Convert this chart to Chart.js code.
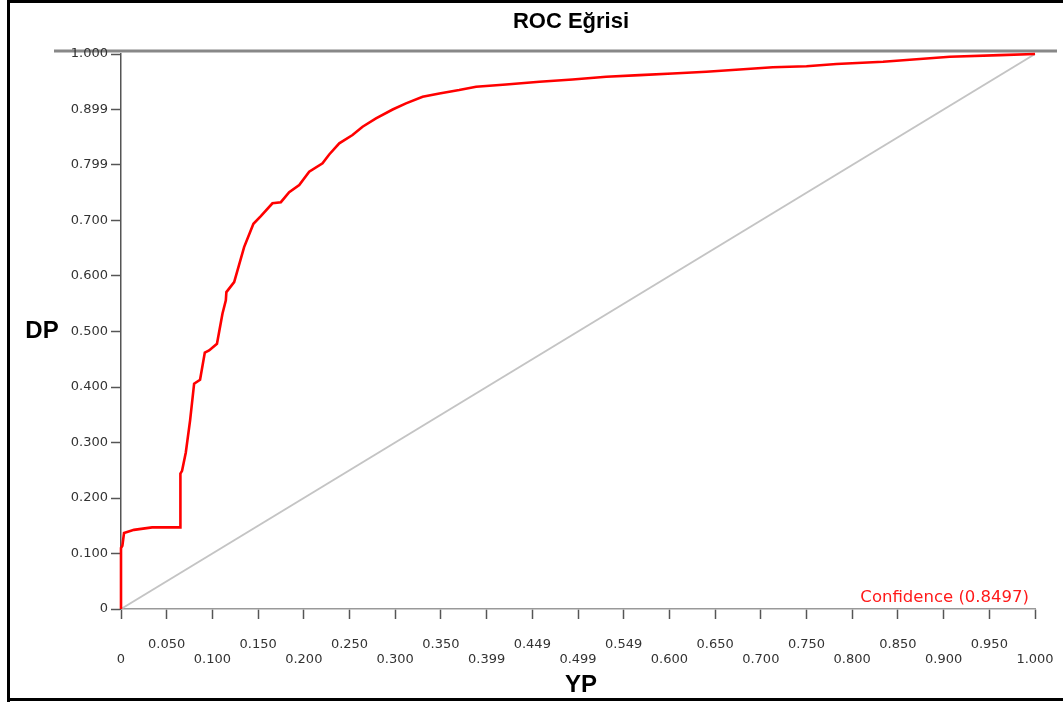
<!DOCTYPE html>
<html>
<head>
<meta charset="utf-8">
<title>ROC Eğrisi</title>
<script src="https://cdn.jsdelivr.net/npm/chart.js@4/dist/chart.umd.min.js"></script>
<style>
  html, body { margin: 0; padding: 0; background: #fff; }
</style>
</head>
<body>
<canvas id="roc-chart" width="1063" height="704"></canvas>
<script>
// values
var fpr = [0, 0, 0.0015, 0.0033, 0.0142, 0.034, 0.0646, 0.065, 0.0668, 0.0709, 0.0756, 0.080, 0.0865, 0.0917,
  0.0964, 0.105, 0.107, 0.111, 0.1147, 0.1153, 0.1238, 0.1347, 0.1449, 0.153, 0.1657, 0.1749, 0.184, 0.195,
  0.2059, 0.2205, 0.2278, 0.2388, 0.2533, 0.2643, 0.279, 0.2972, 0.3118, 0.330, 0.3483, 0.370, 0.3885, 0.4213,
  0.4578, 0.494, 0.5309, 0.5674, 0.6035, 0.6404, 0.6769, 0.713, 0.750, 0.7828, 0.8338, 0.9069, 0.9617, 1.0];
var tpr = [0, 0.110, 0.114, 0.137, 0.1426, 0.147, 0.147, 0.244, 0.249, 0.282, 0.340, 0.406, 0.413, 0.462,
  0.466, 0.478, 0.496, 0.532, 0.556, 0.571, 0.589, 0.652, 0.694, 0.708, 0.731, 0.733, 0.751, 0.764,
  0.788, 0.803, 0.819, 0.839, 0.854, 0.869, 0.884, 0.900, 0.911, 0.923, 0.929, 0.935, 0.941, 0.945,
  0.950, 0.954, 0.959, 0.962, 0.965, 0.968, 0.972, 0.976, 0.978, 0.982, 0.986, 0.995, 0.998, 1.0];
var refX = [0, 1];
var refY = [0, 1];

var xTickLabels = ['0', '0.050', '0.100', '0.150', '0.200', '0.250', '0.300', '0.350', '0.399', '0.449', '0.499',
  '0.549', '0.600', '0.650', '0.700', '0.750', '0.800', '0.850', '0.900', '0.950', '1.000'];
var yTickLabels = ['0', '0.100', '0.200', '0.300', '0.400', '0.500', '0.600', '0.700', '0.799', '0.899', '1.000'];

var chartTitle = 'ROC Eğrisi';
var xTitle = 'YP';
var yTitle = 'DP';
var aucText = 'Confidence (0.8497)';

function toPoints(xs, ys) {
  var pts = [];
  for (var i = 0; i < xs.length; i++) {
    pts.push({x: xs[i], y: ys[i]});
  }
  return pts;
}

// frame, top rule and free texts
var decorations = {
  id: 'decorations',
  beforeDraw: function(chart) {
    var ctx = chart.ctx;
    ctx.save();
    ctx.fillStyle = '#fff';
    ctx.fillRect(0, 0, chart.width, chart.height);
    ctx.fillStyle = '#000';
    ctx.fillRect(7, 0, 1056, 3);
    ctx.fillRect(7, 0, 3, 702);
    ctx.fillRect(7, 698, 1056, 3);
    ctx.fillStyle = '#888';
    ctx.fillRect(54, 49.5, 1003, 3);
    ctx.restore();
  },
  afterDraw: function(chart) {
    var ctx = chart.ctx;
    var area = chart.chartArea;
    ctx.save();
    ctx.fillStyle = '#000';
    ctx.textAlign = 'center';
    ctx.textBaseline = 'middle';
    ctx.font = 'bold 22px "Liberation Sans", Arial, sans-serif';
    ctx.fillText(chartTitle, 571, 22);
    ctx.font = 'bold 24px "Liberation Sans", Arial, sans-serif';
    ctx.fillText(yTitle, 42, 331);
    ctx.fillText(xTitle, 581, 685);
    ctx.fillStyle = '#ff1a1a';
    ctx.textAlign = 'right';
    ctx.font = '16.5px "DejaVu Sans", sans-serif';
    ctx.fillText(aucText, area.right - 6, area.bottom - 11);
    ctx.restore();
  }
};

var ctx = document.getElementById('roc-chart');
new Chart(ctx, {
  type: 'line',
  data: {
    datasets: [{
      data: toPoints(fpr, tpr),
      borderColor: '#ff0000',
      borderWidth: 2.6,
      pointRadius: 0,
      tension: 0,
      clip: 4
    }, {
      data: toPoints(refX, refY),
      borderColor: '#c4c4c4',
      borderWidth: 2,
      pointRadius: 0,
      clip: 4
    }]
  },
  options: {
    responsive: false,
    animation: false,
    devicePixelRatio: 1,
    layout: {padding: {top: 54, right: 28, left: 0, bottom: 0}},
    plugins: {
      legend: {display: false},
      tooltip: {enabled: false}
    },
    scales: {
      x: {
        type: 'linear',
        min: 0,
        max: 1,
        afterFit: function(scale) { scale.height = 95; },
        afterBuildTicks: function(scale) {
          scale.ticks = xTickLabels.map(function(l, i) { return {value: i * 0.05}; });
        },
        grid: {drawOnChartArea: false, drawTicks: true, tickLength: 10, tickColor: '#555', tickWidth: 1.5},
        border: {display: true, color: '#999', width: 1.5},
        ticks: {
          autoSkip: false,
          maxRotation: 0,
          padding: 3,
          color: '#333',
          font: {family: 'DejaVu Sans', size: 13, lineHeight: 1.15},
          callback: function(value, index) {
            // staggered labels: odd ones on the upper row, even ones on the lower row
            var label = xTickLabels[index];
            return index % 2 === 1 ? ['', label, ''] : ['', '', label];
          }
        }
      },
      y: {
        type: 'linear',
        min: 0,
        max: 1,
        afterFit: function(scale) { scale.width = 121; },
        afterBuildTicks: function(scale) {
          scale.ticks = yTickLabels.map(function(l, i) { return {value: i * 0.1}; });
        },
        grid: {drawOnChartArea: false, drawTicks: true, tickLength: 10, tickColor: '#555', tickWidth: 1.5},
        border: {display: true, color: '#555', width: 1.5},
        ticks: {
          autoSkip: false,
          padding: 3,
          color: '#333',
          font: {family: 'DejaVu Sans', size: 13},
          callback: function(value, index) { return yTickLabels[index]; }
        }
      }
    }
  },
  plugins: [decorations]
});
</script>
</body>
</html>
